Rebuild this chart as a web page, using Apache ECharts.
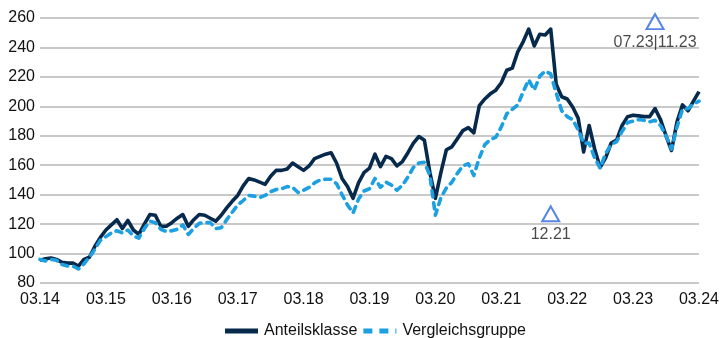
<!DOCTYPE html>
<html>
<head>
<meta charset="utf-8">
<script src="https://cdn.jsdelivr.net/npm/echarts@6/dist/echarts.min.js"></script>
<style>
  html, body { margin: 0; padding: 0; background: #ffffff; }
  #chart { width: 722px; height: 338px; }
</style>
</head>
<body>
<div id="chart"></div>
<script>
// Monthly index values, March 2014 to March 2024
const firstYear = 2014;
const firstMonth = 3;
const monthCount = 121;

const fundSeriesName = 'Anteilsklasse';
const peerSeriesName = 'Vergleichsgruppe';

const fundValues = [
  95.5, 96.5, 97, 96, 94, 93.5, 93.5, 91.5, 96, 97.5, 105, 111,
  116, 119.5, 123, 117, 122.5, 116, 113, 120, 126.5, 126, 118.5, 118.5,
  121, 124, 126.5, 118.5, 123, 126.5, 126, 124, 122, 126, 131, 135.5,
  139.5, 146, 151, 150, 148.5, 147, 152.5, 156.5, 156.5, 157.5, 161.5, 159,
  156.5, 159.5, 164.5, 166, 167.5, 168.5, 161.5, 151, 145.5, 137.5, 148, 155,
  158, 167.5, 159, 166, 164.5, 159.5, 162.5, 168.5, 175, 179.5, 177, 155,
  137.5, 155, 170.5, 172.5, 178, 183.5, 185.5, 182, 200.5, 205, 208.5, 211,
  216, 224.5, 226, 237, 244, 252.5, 241, 249, 248.5, 252.5, 215, 206.5,
  205, 199.5, 192, 169, 187, 171, 158.5, 165, 175, 177, 187, 193,
  194, 193.5, 193, 193, 198.5, 191, 180, 170, 189.5, 201, 197, 203.5,
  210
];

const peerValues = [
  96, 95, 96, 95.5, 92.5, 91.5, 91.5, 89.5, 93, 97.5, 103, 109,
  111.5, 114, 115.5, 114, 116, 112, 110.5, 117, 122, 121, 116.5, 115,
  115.5, 116.5, 119.5, 113, 117, 120.5, 121, 121, 117, 117.5, 123, 128,
  133, 136, 139.5, 139, 138, 139.5, 142, 143.5, 144, 145.5, 145, 141.5,
  143, 145, 148, 150, 150.5, 150.5, 147.5, 140, 133, 127.5, 137, 142.5,
  144, 151, 145, 148.5, 146.5, 143, 146.5, 152, 158.5, 161.5, 162, 153,
  126, 138, 144.5, 148.5, 154.5, 159.5, 161, 153, 165, 174, 177.5, 179,
  186, 195, 198, 201, 210, 218, 211, 220.5, 224, 222, 209, 197,
  193, 191, 184, 175, 175, 165, 158, 168, 174, 176, 183, 189,
  190, 191, 190.5, 189.5, 190.5, 187, 180, 171, 186, 198, 198.5, 201.5,
  203.5
];

// Event markers: month, height on the value scale, caption
const markerMonths = ['12.21', '07.23'];
const markerLevels = [127, 257.5];
const markerTexts = ['12.21', '07.23|11.23'];

// y-axis range
const yMin = 80;
const yMax = 260;
const yStep = 20;

// Build "MM.YY" month labels
const months = [];
for (let i = 0; i < monthCount; i++) {
  const total = (firstMonth - 1) + i;
  const m = (total % 12) + 1;
  const y = (firstYear + Math.floor(total / 12)) % 100;
  months.push(String(m).padStart(2, '0') + '.' + String(y).padStart(2, '0'));
}

const axisFont = '"Liberation Sans Narrow", "Arial Narrow", "Liberation Sans", Arial, sans-serif';
const regularFont = '"Liberation Sans", Arial, sans-serif';

const fundColor = '#072a4c';
const peerColor = '#1ca0e2';

const markerData = markerMonths.map((m, i) => ({
  value: [m, markerLevels[i]],
  label: { formatter: markerTexts[i] }
}));

const chart = echarts.init(document.getElementById('chart'), null, { renderer: 'canvas' });

chart.setOption({
  animation: false,
  backgroundColor: '#ffffff',
  grid: { left: 40, right: 19, top: 18, bottom: 55, containLabel: false },
  legend: {
    data: [
      { name: fundSeriesName, icon: 'path://M0,0 H33 V5 H0 Z' },
      { name: peerSeriesName, icon: 'path://M0,0 H9 V5 H0 Z M16,0 H25 V5 H16 Z M32,0 H33 V5 H32 Z' }
    ],
    top: 318,
    left: 220,
    itemWidth: 33,
    itemHeight: 5,
    itemGap: 6,
    textStyle: { fontFamily: axisFont, fontSize: 16, color: '#111111', padding: [0, 0, 0, 1] }
  },
  xAxis: {
    type: 'category',
    data: months,
    boundaryGap: false,
    axisLine: { show: false },
    axisTick: { show: false },
    splitLine: { show: false },
    axisLabel: {
      interval: 11,
      margin: 9,
      fontFamily: axisFont,
      fontSize: 16,
      color: '#111111'
    }
  },
  yAxis: {
    type: 'value',
    min: yMin,
    max: yMax,
    interval: yStep,
    axisLine: { show: false },
    axisTick: { show: false },
    splitLine: { lineStyle: { color: '#c9c9c9', width: 2 } },
    axisLabel: {
      margin: 5,
      fontFamily: axisFont,
      fontSize: 16,
      color: '#111111'
    }
  },
  series: [
    {
      name: fundSeriesName,
      type: 'line',
      data: fundValues,
      symbol: 'none',
      color: fundColor,
      lineStyle: { color: fundColor, width: 3.6, join: 'round' },
      z: 2
    },
    {
      name: peerSeriesName,
      type: 'line',
      data: peerValues,
      symbol: 'none',
      color: peerColor,
      lineStyle: { color: peerColor, width: 3.6, type: [6, 6], cap: 'round', join: 'round' },
      z: 3
    },
    {
      name: 'markers',
      type: 'scatter',
      data: markerData,
      symbol: 'triangle',
      symbolSize: [17, 15],
      itemStyle: { color: '#ffffff', borderColor: '#2c66dc', borderWidth: 2 },
      label: {
        show: true,
        position: 'bottom',
        distance: 4,
        fontFamily: regularFont,
        fontSize: 16,
        color: '#1a1a1a'
      },
      emphasis: { disabled: true },
      silent: true,
      z: 4
    }
  ]
});
</script>
</body>
</html>
